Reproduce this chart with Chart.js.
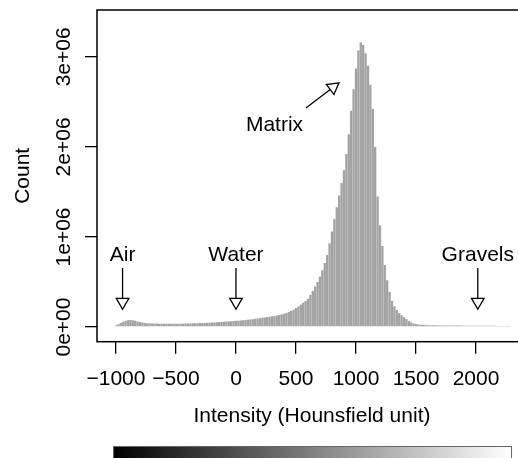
<!DOCTYPE html>
<html>
<head>
<meta charset="utf-8">
<title>Intensity histogram</title>
<script src="https://cdn.jsdelivr.net/npm/chart.js@4.4.1/dist/chart.umd.min.js"></script>
<style>
  html, body { margin: 0; padding: 0; background: #fff; }
  #frame { width: 518px; height: 458px; overflow: hidden; }
  #box { width: 540px; height: 458px; position: relative; }
</style>
</head>
<body>
<div id="frame"><div id="box"><canvas id="canvas"></canvas></div></div>
<script>
// Bin centres (HU, 20 HU wide bins)
const intensity = [
  -1020, -1000, -980, -960, -940, -920, -900, -880, -860, -840,
  -820, -800, -780, -760, -740, -720, -700, -680, -660, -640,
  -620, -600, -580, -560, -540, -520, -500, -480, -460, -440,
  -420, -400, -380, -360, -340, -320, -300, -280, -260, -240,
  -220, -200, -180, -160, -140, -120, -100, -80, -60, -40,
  -20, 0, 20, 40, 60, 80, 100, 120, 140, 160,
  180, 200, 220, 240, 260, 280, 300, 320, 340, 360,
  380, 400, 420, 440, 460, 480, 500, 520, 540, 560,
  580, 600, 620, 640, 660, 680, 700, 720, 740, 760,
  780, 800, 820, 840, 860, 880, 900, 920, 940, 960,
  980, 1000, 1020, 1040, 1060, 1080, 1100, 1120, 1140, 1160,
  1180, 1200, 1220, 1240, 1260, 1280, 1300, 1320, 1340, 1360,
  1380, 1400, 1420, 1440, 1460, 1480, 1500, 1520, 1540, 1560,
  1580, 1600, 1620, 1640, 1660, 1680, 1700, 1720, 1740, 1760,
  1780, 1800, 1820, 1840, 1860, 1880, 1900, 1920, 1940, 1960,
  1980, 2000, 2020, 2040, 2060, 2080, 2100, 2120, 2140, 2160,
  2180, 2200, 2220, 2240, 2260, 2280
];

// Voxel counts per bin, in thousands
const countsK = [
  8, 18, 30, 45, 58, 68, 75, 78, 76, 70,
  62, 55, 50, 46, 43, 41, 40, 39, 38, 37,
  36, 36, 35, 35, 35, 35, 35, 36, 36, 37,
  38, 39, 40, 41, 42, 43, 44, 45, 46, 47,
  48, 49, 51, 53, 55, 57, 59, 61, 63, 65,
  67, 69, 71, 73, 75, 78, 81, 84, 87, 91,
  95, 99, 103, 107, 111, 115, 119, 123, 128, 133,
  140, 148, 157, 168, 180, 193, 210, 228, 250, 270,
  290, 315, 355, 400, 450, 500, 560, 630, 710, 800,
  930, 1060, 1200, 1330, 1460, 1600, 1740, 1920, 2140, 2400,
  2640, 2870, 3070, 3160, 3130, 3040, 2900, 2690, 2420, 2000,
  1450, 1130, 900, 690, 520, 390, 290, 230, 190, 155,
  130, 108, 85, 66, 50, 40, 33, 29, 26, 24,
  22, 21, 20, 20, 19, 19, 18, 18, 18, 17,
  17, 17, 16, 16, 16, 16, 15, 15, 15, 15,
  15, 14, 14, 14, 14, 13, 13, 13, 13, 13,
  12, 12, 12, 12, 12, 11
];

const xTicks = [-1000, -500, 0, 500, 1000, 1500, 2000];
const yTicks = [0, 1e6, 2e6, 3e6];
const yTickLabels = ['0e+00', '1e+06', '2e+06', '3e+06'];

// HU range covered by the grey-scale bar under the plot
const huRange = [-1024, 2292];

// Labelled tissues with a downward arrow
const markers = [
  { text: 'Air', x: -945 },
  { text: 'Water', x: 0 },
  { text: 'Gravels', x: 2015 }
];
const markerLabelY = 0.733e6;
const markerArrow = [0.655e6, 0.197e6];

// Matrix label with a slanted arrow towards the peak
const matrixNote = { text: 'Matrix', x: 321, y: 2.178e6, from: [583, 2.433e6], to: [858, 2.711e6] };

const FONT = '"Liberation Sans", Arial, Helvetica, sans-serif';
const FS = 21;

Chart.defaults.font.family = FONT;
Chart.defaults.font.size = FS;
Chart.defaults.color = '#000';

function drawArrow(ctx, x1, y1, x2, y2) {
  const a = Math.atan2(y2 - y1, x2 - x1);
  const len = 11, half = 6.3;
  const bx = x2 - len * Math.cos(a), by = y2 - len * Math.sin(a);
  ctx.beginPath();
  ctx.moveTo(x1, y1);
  ctx.lineTo(bx, by);
  ctx.stroke();
  ctx.beginPath();
  ctx.moveTo(x2, y2);
  ctx.lineTo(bx + half * Math.sin(a), by - half * Math.cos(a));
  ctx.lineTo(bx - half * Math.sin(a), by + half * Math.cos(a));
  ctx.closePath();
  ctx.fillStyle = '#fff';
  ctx.fill();
  ctx.stroke();
}

// box, rotated y labels, annotations and the grey-scale bar
const extras = {
  id: 'extras',
  afterDraw(chart) {
    const { ctx, chartArea: area, scales: { x, y } } = chart;
    ctx.save();

    ctx.strokeStyle = '#000';
    ctx.lineWidth = 1.5;
    ctx.strokeRect(area.left, area.top, area.right - area.left, area.bottom - area.top);

    ctx.fillStyle = '#000';
    ctx.font = FS + 'px ' + FONT;
    ctx.textAlign = 'center';
    ctx.textBaseline = 'alphabetic';
    yTicks.forEach((v, i) => {
      ctx.save();
      ctx.translate(70, y.getPixelForValue(v));
      ctx.rotate(-Math.PI / 2);
      ctx.fillText(yTickLabels[i], 0, 0);
      ctx.restore();
    });

    ctx.lineWidth = 1.3;
    markers.forEach(m => {
      const px = x.getPixelForValue(m.x);
      ctx.fillStyle = '#000';
      ctx.fillText(m.text, px, y.getPixelForValue(markerLabelY));
      drawArrow(ctx, px, y.getPixelForValue(markerArrow[0]), px, y.getPixelForValue(markerArrow[1]));
    });

    ctx.fillStyle = '#000';
    ctx.fillText(matrixNote.text, x.getPixelForValue(matrixNote.x), y.getPixelForValue(matrixNote.y));
    drawArrow(ctx,
      x.getPixelForValue(matrixNote.from[0]), y.getPixelForValue(matrixNote.from[1]),
      x.getPixelForValue(matrixNote.to[0]), y.getPixelForValue(matrixNote.to[1]));

    const gx0 = x.getPixelForValue(huRange[0]);
    const gx1 = x.getPixelForValue(huRange[1]);
    const grad = ctx.createLinearGradient(gx0, 0, gx1, 0);
    grad.addColorStop(0, '#000');
    grad.addColorStop(1, '#fff');
    ctx.fillStyle = grad;
    ctx.fillRect(gx0, 446, gx1 - gx0, 30);
    ctx.strokeStyle = '#666';
    ctx.lineWidth = 1;
    ctx.strokeRect(gx0 + 0.5, 446.5, gx1 - gx0, 30);

    ctx.restore();
  }
};

const canvas = document.getElementById('canvas');
const chart = new Chart(canvas, {
  type: 'bar',
  data: {
    datasets: [{
      data: intensity.map((hu, i) => ({ x: hu, y: countsK[i] * 1000 })),
      backgroundColor: '#a3a3a3',
      borderWidth: 0,
      barPercentage: 0.97,
      categoryPercentage: 1
    }]
  },
  options: {
    responsive: true,
    maintainAspectRatio: false,
    devicePixelRatio: 1,
    animation: false,
    events: [],
    layout: { padding: { top: 10, right: 13, left: 0, bottom: 0 } },
    plugins: { legend: { display: false }, tooltip: { enabled: false } },
    scales: {
      x: {
        type: 'linear',
        min: -1158,
        max: 2425,
        offset: false,
        afterBuildTicks: s => { s.ticks = xTicks.map(v => ({ value: v })); },
        afterFit: s => { s.height = 116.3; },
        grid: { offset: false, drawOnChartArea: false, drawTicks: true, tickLength: 12, color: '#000', lineWidth: 1.3 },
        border: { display: false },
        ticks: {
          padding: 13,
          maxRotation: 0,
          autoSkip: false,
          callback: v => (v < 0 ? '\u2212' + Math.abs(v) : String(v))
        },
        title: { display: true, text: 'Intensity (Hounsfield unit)', padding: { top: 0, bottom: 29 } }
      },
      y: {
        type: 'linear',
        min: -0.163e6,
        max: 3.52e6,
        afterBuildTicks: s => { s.ticks = yTicks.map(v => ({ value: v })); },
        afterFit: s => { s.width = 97; },
        grid: { drawOnChartArea: false, drawTicks: true, tickLength: 12, color: '#000', lineWidth: 1.3 },
        border: { display: false },
        ticks: { display: false },
        title: { display: true, text: 'Count', padding: { top: 11, bottom: 0 } }
      }
    }
  },
  plugins: [extras]
});
</script>
</body>
</html>
